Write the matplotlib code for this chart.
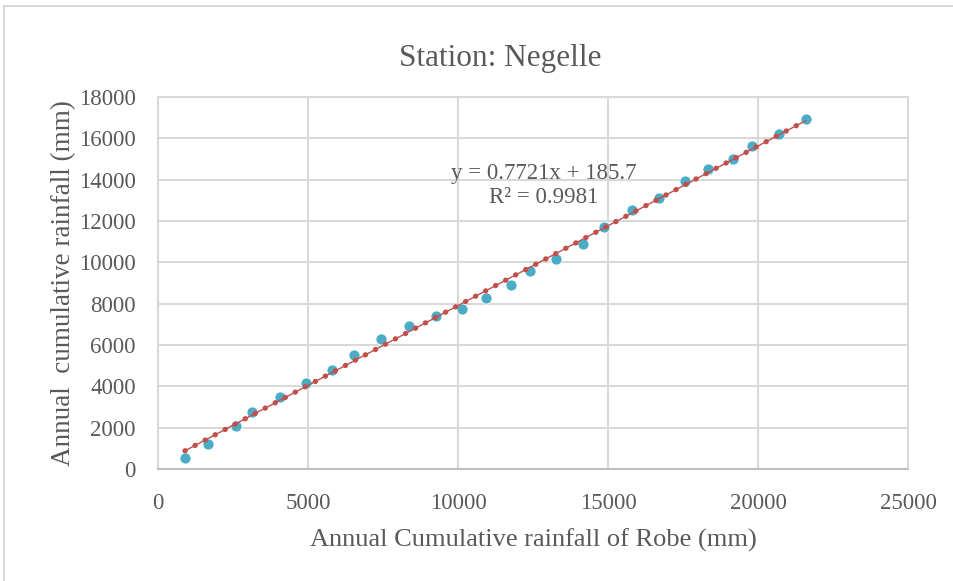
import numpy as np
import matplotlib
matplotlib.use("Agg")
import matplotlib.pyplot as plt
from matplotlib.lines import Line2D

# =====================================
# DATA
# =====================================
robe_cum = [900, 1677, 2600, 3143, 4083, 4917, 5790, 6543, 7433, 8367,
            9267, 10143, 10923, 11750, 12400, 13267, 14177, 14877, 15790, 16690,
            17567, 18343, 19177, 19810, 20700, 21590]
negelle_cum = [518, 1210, 2081, 2744, 3498, 4147, 4790, 5516, 6276, 6934,
               7403, 7742, 8274, 8894, 9581, 10176, 10873, 11710, 12532, 13113,
               13921, 14502, 14986, 15629, 16195, 16950]

slope = 0.7721
intercept = 185.7
r2 = 0.9981

x_ticks = [0, 5000, 10000, 15000, 20000, 25000]
y_ticks = [0, 2000, 4000, 6000, 8000, 10000, 12000, 14000, 16000, 18000]

# =====================================
# STYLE
# =====================================
plt.rcParams["font.family"] = ["Liberation Serif", "DejaVu Serif"]
text_col = "#595959"
grid_col = "#D9D9D9"

fig = plt.figure(figsize=(9.54, 5.81), dpi=100)
ax = fig.add_axes([158 / 954, 1 - 469 / 581, 750 / 954, 372 / 581])

# chart border
fig.add_artist(Line2D([4 / 954, 1.0], [1 - 6 / 581, 1 - 6 / 581],
                      color=grid_col, lw=1.5, transform=fig.transFigure))
fig.add_artist(Line2D([4 / 954, 4 / 954], [0.0, 1 - 6 / 581],
                      color=grid_col, lw=1.5, transform=fig.transFigure))

# =====================================
# PLOT
# =====================================
ax.scatter(robe_cum, negelle_cum, s=64, color="#4BACC6",
           edgecolors="white", linewidths=0.6, zorder=3)

xs = np.array([min(robe_cum), max(robe_cum)])
ys = slope * xs + intercept
ax.plot(xs, ys, color="#C0504D", lw=1.0, zorder=4)
ax.plot(xs, ys, color="#C0504D", lw=3.8, linestyle=(0, (0.05, 2.1)),
        dash_capstyle="round", zorder=4)

ax.text(12870, 13720, f"y = {slope}x + {intercept}\nR² = {r2}",
        ha="center", va="center", multialignment="center", fontsize=16.5,
        color=text_col, linespacing=1.2, zorder=5)

ax.set_xlim(0, 25000)
ax.set_ylim(0, 18000)
ax.set_xticks(x_ticks)
ax.set_yticks(y_ticks)
ax.grid(True, color=grid_col, lw=1.5)
ax.set_axisbelow(True)
for side in ["top", "right", "left"]:
    ax.spines[side].set_color(grid_col)
    ax.spines[side].set_linewidth(1.5)
ax.spines["bottom"].set_color("#BFBFBF")
ax.spines["bottom"].set_linewidth(1.5)

ax.tick_params(length=0, labelsize=16.5, labelcolor=text_col)
ax.tick_params(axis="x", pad=17)
ax.tick_params(axis="y", pad=16)

ax.set_title("Station: Negelle", fontsize=22.5, color=text_col, pad=22,
             x=(500 - 158) / 750)
ax.set_xlabel("Annual Cumulative rainfall of Robe (mm)", fontsize=19,
              color=text_col, labelpad=11)
ax.set_ylabel("Annual  cumulative rainfall (mm)", fontsize=19.5,
              color=text_col, labelpad=2)

plt.savefig("out.png", dpi=100, facecolor="white")
